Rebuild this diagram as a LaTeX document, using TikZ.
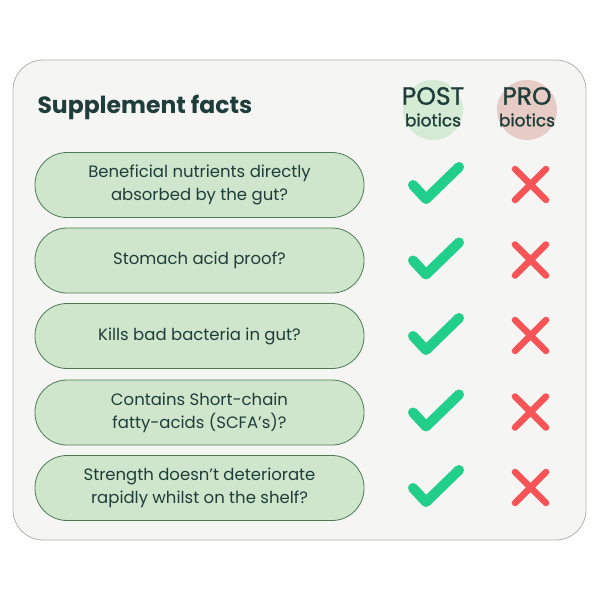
\documentclass[tikz,border=0pt]{standalone}
\usepackage{fontspec}
\setmainfont{Poppins}
\newfontfamily\medfont[FakeBold=1.2]{Poppins}
\definecolor{ink}{HTML}{1F3D3A}
\definecolor{pillfill}{HTML}{CFE6CC}
\definecolor{pilledge}{HTML}{4E7A56}
\definecolor{cardbg}{HTML}{F5F5F3}
\definecolor{chk}{HTML}{21CE8A}
\definecolor{crs}{HTML}{F65456}
\definecolor{postc}{HTML}{D5EBD3}
\definecolor{proc}{HTML}{E6CCC4}
\begin{document}
\begin{tikzpicture}[x=1pt,y=-1pt,
  pill/.style={draw=pilledge,line width=0.8pt,fill=pillfill,rounded corners=32pt,minimum width=329pt,minimum height=65pt,align=center,font=\fontsize{16.5}{23}\selectfont,text=ink},
  chkmark/.style={draw=chk,line width=10pt,line cap=round,line join=round},
  crsmark/.style={draw=crs,line width=6.5pt,line cap=round}]
\useasboundingbox (0,0) rectangle (600,600);
\node[draw=gray!60,fill=cardbg,rounded corners=30pt,line width=0.8pt,minimum width=573pt,minimum height=480pt] (card) at (299.5,300) {};
\node[anchor=west,font=\fontsize{23.5}{26}\selectfont\bfseries,text=ink] (title) at (34,107) {Supplement facts};
\fill[postc] (433,110) circle (30);
\fill[proc] (527,110) circle (30);
\node[font=\fontsize{25}{26}\medfont,text=ink] (post) at (433,96) {POST};
\node[font=\fontsize{17}{18}\medfont,text=ink] (postb) at (433,120) {biotics};
\node[font=\fontsize{25}{26}\medfont,text=ink] (pro) at (527,96) {PRO};
\node[font=\fontsize{17}{18}\medfont,text=ink] (prob) at (527,120) {biotics};
\foreach \i/\y/\t in {1/185/{Beneficial nutrients directly\\absorbed by the gut?},2/260.5/{Stomach acid proof?},3/336/{Kills bad bacteria in gut?},4/412.5/{Contains Short-chain\\fatty-acids (SCFA's)?},5/488/{Strength doesn't deteriorate\\rapidly whilst on the shelf?}}{
  \node[pill] (p\i) at (199.5,\y) {\t};
  \draw[chkmark] (413,\y) -- (426,\y+14) -- (459,\y-18);
  \draw[crsmark] (515,\y-16) -- (546,\y+15) (515,\y+15) -- (546,\y-16);
}
\end{tikzpicture}
\end{document}
